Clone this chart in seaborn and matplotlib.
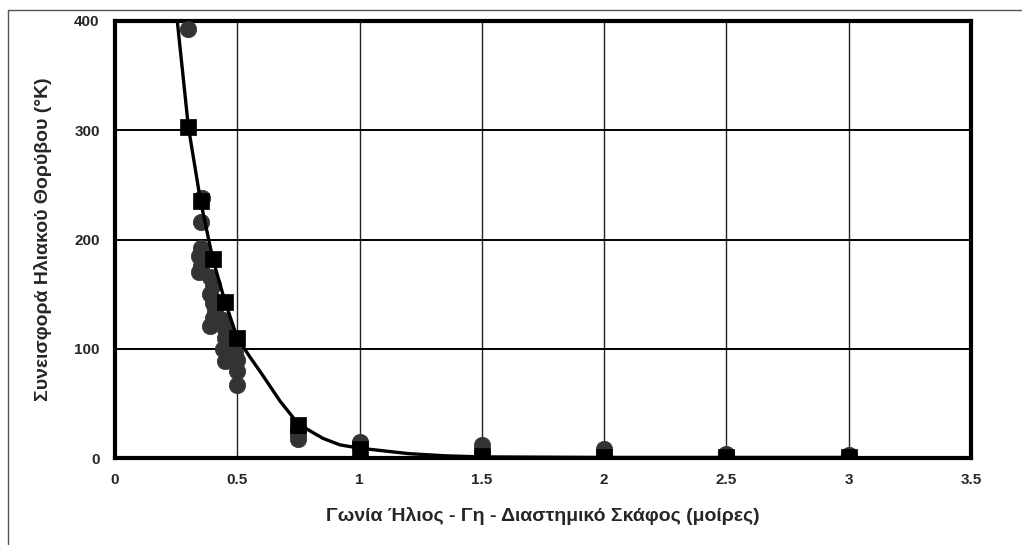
import matplotlib
matplotlib.use("Agg")
import matplotlib.pyplot as plt
from matplotlib.lines import Line2D
from matplotlib.ticker import MultipleLocator
import seaborn as sns
import pandas as pd

# Measured solar-noise contribution (individual passes)
meas_angle = [0.30,
              0.355, 0.35, 0.35, 0.345, 0.35, 0.345,
              0.39, 0.40, 0.39, 0.40, 0.41, 0.40, 0.39,
              0.44, 0.45, 0.45, 0.44, 0.45,
              0.48, 0.49, 0.50, 0.50, 0.50,
              0.75, 0.75, 0.75,
              1.0, 1.0,
              1.5, 1.5,
              2.0, 2.0,
              2.5, 2.5,
              3.0]
meas_noise = [393,
              238, 216, 192, 185, 176, 170,
              166, 158, 150, 142, 135, 128, 121,
              126, 118, 110, 100, 89,
              105, 96, 90, 80, 67,
              27, 22, 17,
              15, 11,
              12, 5,
              8, 3,
              4, 2,
              3]

# Model values at the test angles
model_angle = [0.3, 0.35, 0.4, 0.45, 0.5, 0.75, 1.0, 1.5, 2.0, 2.5, 3.0]
model_noise = [303, 235, 182, 143, 110, 30, 8, 2, 1, 1, 1]

# Smoothed model curve
curve_angle = [0.25, 0.3, 0.35, 0.4, 0.45, 0.5, 0.55, 0.6, 0.675, 0.75,
               0.85, 0.92, 1.0, 1.2, 1.35, 1.5, 2.0, 2.5, 3.0]
curve_noise = [410, 303, 235, 182, 143, 110, 93, 77, 52, 31,
               18, 12, 9, 4, 2, 1, 0.5, 0.5, 0.5]

x_ticks = [0, 0.5, 1, 1.5, 2, 2.5, 3, 3.5]
x_tick_labels = ["0", "0.5", "1", "1.5", "2", "2.5", "3", "3.5"]
y_ticks = [0, 100, 200, 300, 400]

meas = pd.DataFrame({"angle": meas_angle, "noise": meas_noise})
model = pd.DataFrame({"angle": model_angle, "noise": model_noise})
curve = pd.DataFrame({"angle": curve_angle, "noise": curve_noise})

sns.set_style("white")
plt.rcParams["font.family"] = ["Liberation Sans", "DejaVu Sans"]

fig = plt.figure(figsize=(10.22, 5.45), dpi=100)
ax = fig.add_axes([115 / 1022, 1 - 458 / 545, (971 - 115) / 1022, (458 - 21) / 545])

sns.scatterplot(data=meas, x="angle", y="noise", ax=ax, marker="o", s=140,
                color="#333333", edgecolor="#333333", linewidth=0.5, zorder=3)
sns.lineplot(data=curve, x="angle", y="noise", ax=ax, sort=False, estimator=None,
             color="black", linewidth=2.4, zorder=4)
sns.scatterplot(data=model, x="angle", y="noise", ax=ax, marker="s", s=120,
                color="black", edgecolor="black", linewidth=0.5, zorder=5)

ax.set_xlim(0, 3.5)
ax.set_ylim(0, 400)

ax.set_xticks(x_ticks)
ax.set_xticklabels(x_tick_labels)
ax.set_yticks(y_ticks)
ax.yaxis.set_minor_locator(MultipleLocator(50))

ax.tick_params(axis="x", which="both", length=0, pad=11, labelsize=11)
ax.tick_params(axis="y", which="major", length=0, pad=11, labelsize=11)
ax.tick_params(axis="y", which="minor", length=6, width=1.2, direction="in",
               color="black")
for lbl in ax.get_xticklabels() + ax.get_yticklabels():
    lbl.set_fontweight("bold")

ax.grid(axis="y", which="major", color="black", linewidth=1.4)
ax.grid(axis="x", which="major", color="#222222", linewidth=1.0)
ax.set_axisbelow(True)

for side in ["left", "right", "top", "bottom"]:
    ax.spines[side].set_visible(True)
    ax.spines[side].set_color("black")
    ax.spines[side].set_linewidth(3.0)

ax.set_xlabel("Γωνία Ήλιος - Γη - Διαστημικό Σκάφος (μοίρες)",
              fontsize=14, fontweight="bold", labelpad=14)
ax.set_ylabel("Συνεισφορά Ηλιακού Θορύβου (°K)",
              fontsize=14, fontweight="bold", labelpad=16)

# Outer frame lines of the chart area
fig.add_artist(Line2D([8 / 1022, 8 / 1022], [0, 1 - 10 / 545],
                      transform=fig.transFigure, color="#555555", linewidth=1.0))
fig.add_artist(Line2D([8 / 1022, 1], [1 - 10 / 545, 1 - 10 / 545],
                      transform=fig.transFigure, color="#555555", linewidth=1.0))

fig.savefig("out.png", dpi=100)
